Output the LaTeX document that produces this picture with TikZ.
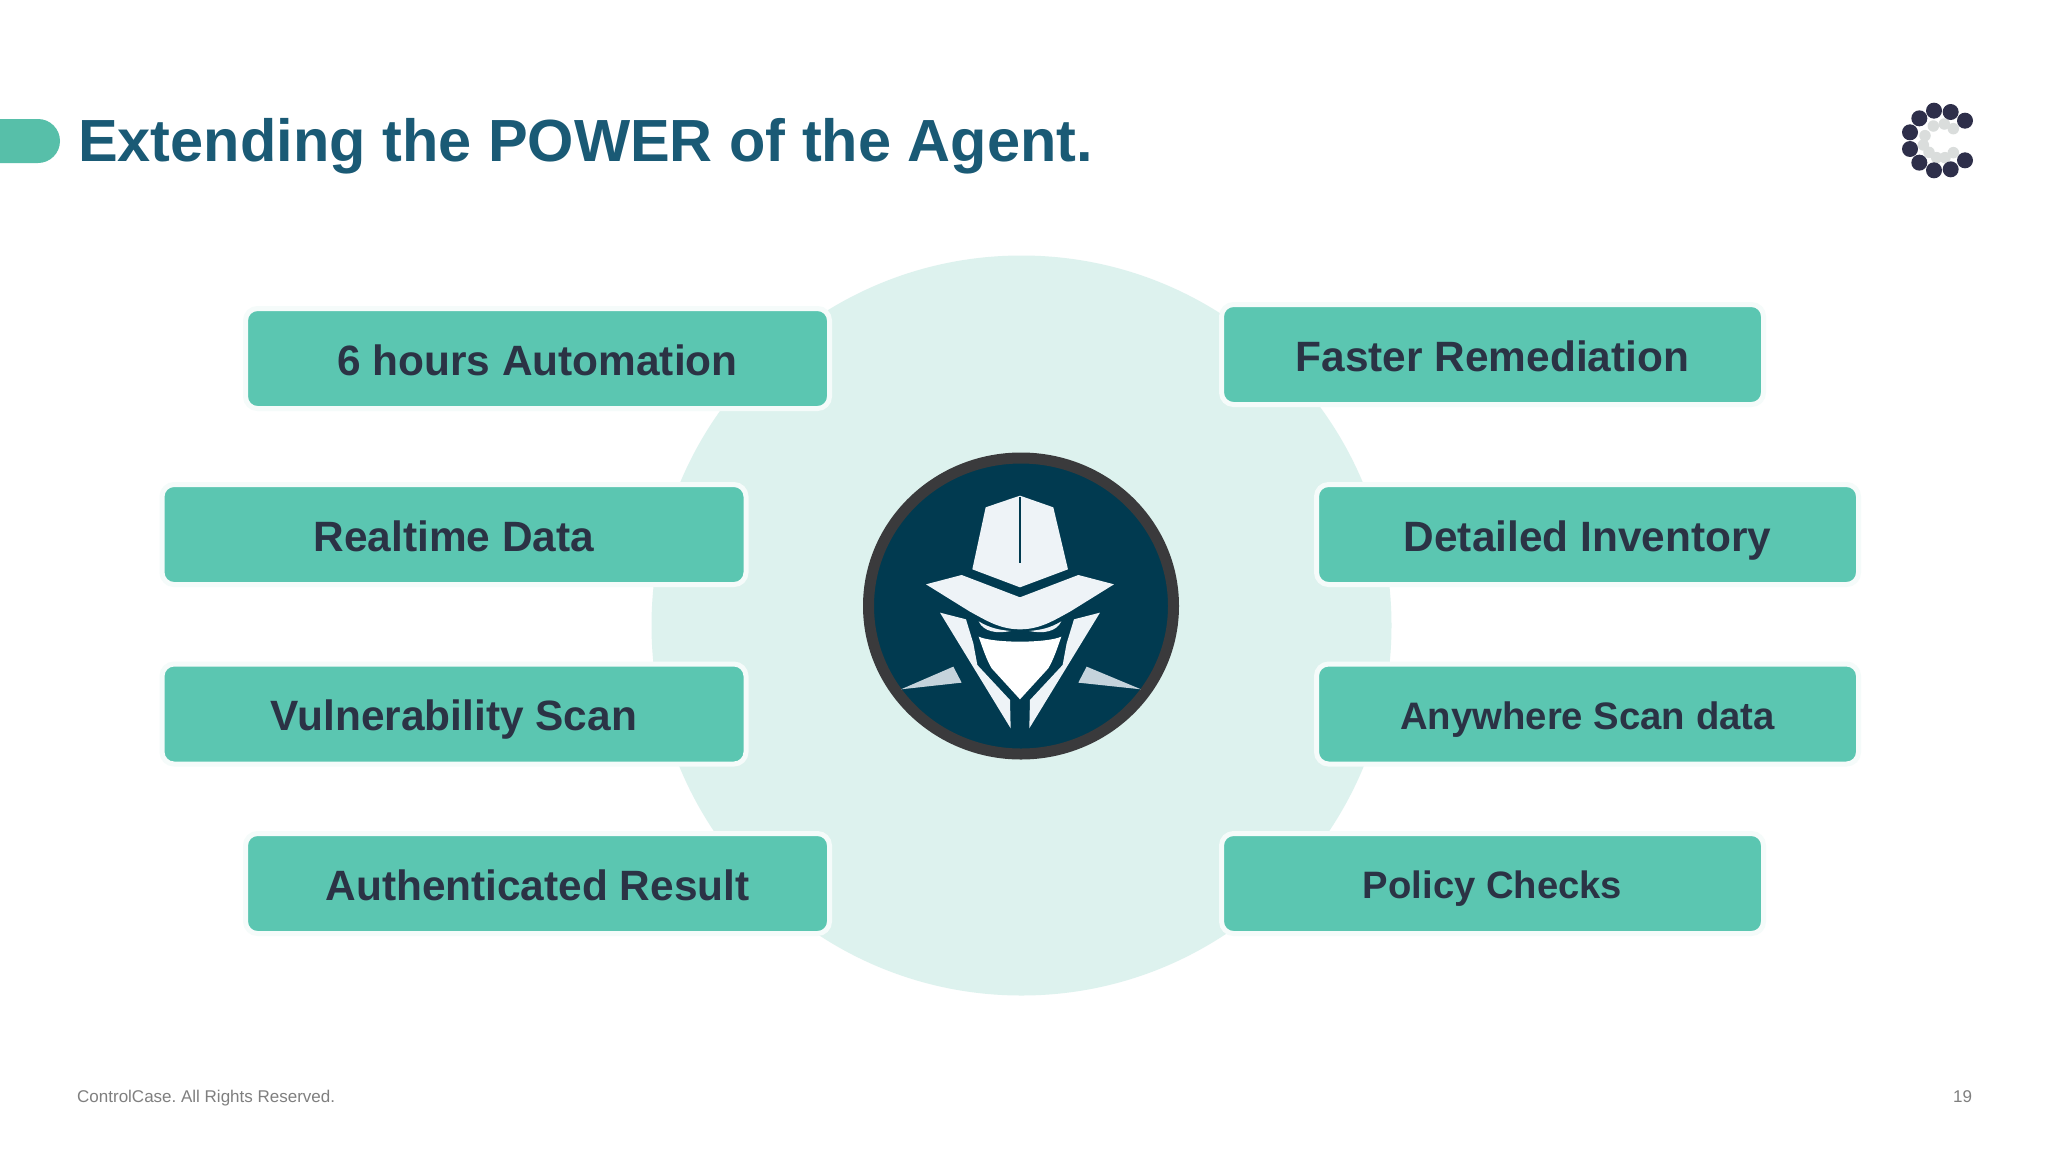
\documentclass[tikz,border=0pt]{standalone}
\usepackage{fontspec}
\usetikzlibrary{shapes.geometric}
\setmainfont{Liberation Sans}
\frenchspacing
\definecolor{teal1}{HTML}{5BC6B1}
\definecolor{pill}{HTML}{57BFA9}
\definecolor{halo}{HTML}{F5FBFA}
\definecolor{disc}{HTML}{DDF2EE}
\definecolor{titleblue}{HTML}{1A5A75}
\definecolor{labelink}{HTML}{2B3345}
\definecolor{navy}{HTML}{013A50}
\definecolor{ring}{HTML}{3A3A3C}
\definecolor{spy}{HTML}{EEF3F7}
\definecolor{spyshade}{HTML}{C5D3DC}
\definecolor{logodark}{HTML}{2E2F4A}
\definecolor{logolight}{HTML}{DADDDC}
\definecolor{foot}{HTML}{7F7F7F}
\tikzset{
  tile/.style={rectangle,rounded corners=12pt,fill=teal1,draw=halo,line width=5pt,
    text=labelink,font=\fontsize{42.4}{43}\selectfont\bfseries,
    text height=36pt,text depth=3pt,inner sep=0pt,align=center},
  widetile/.style={tile,minimum width=584pt,minimum height=100pt},
  shorttile/.style={tile,minimum width=542pt,minimum height=100pt},
  spypart/.style={fill=spy,draw=none},
  ldark/.style={circle,fill=logodark,inner sep=0pt,minimum size=16pt},
  llight/.style={circle,fill=logolight,inner sep=0pt,minimum size=11.5pt},
  footer/.style={text=foot,font=\fontsize{17}{18}\selectfont,inner sep=0pt,anchor=base west}
}
\begin{document}
\begin{tikzpicture}[x=1pt,y=-1pt]
\useasboundingbox (0,0) rectangle (2048,1152);
\fill[white] (0,0) rectangle (2048,1152);
% title
\begin{scope}
  \clip (0,0) rectangle (2048,1152);
  \fill[pill,rounded corners=22pt] (-60,119) rectangle (60,163);
\end{scope}
\node[anchor=base west,inner sep=0pt,text=titleblue,font=\fontsize{59.5}{60}\selectfont\bfseries] (title) at (78,161) {Extending the POWER of the Agent.};
% disc
\node[circle,fill=disc,minimum size=740pt,inner sep=0pt] (bigdisc) at (1021.5,625.5) {};
% tiles
\node[widetile] (auto) at (537.5,358.5) {6 hours Automation};
\node[widetile] (real) at (454,534.5) {Realtime Data};
\node[widetile] (vuln) at (454,714) {Vulnerability Scan};
\node[widetile] (authr) at (537.5,883.5) {Authenticated Result};
\node[shorttile] (fast) at (1492.5,354.5) {Faster Remediation};
\node[shorttile] (inv) at (1587.5,534.5) {Detailed Inventory};
\node[shorttile] (any) at (1587.5,714) {\raisebox{1.2pt}{\fontsize{38.3}{40}\selectfont Anywhere Scan data}};
\node[shorttile] (pol) at (1492.5,883.5) {\raisebox{1.2pt}{\fontsize{38.2}{40}\selectfont Policy Checks}};
% agent badge
\node[ellipse,fill=navy,draw=ring,line width=11pt,minimum width=305pt,minimum height=296pt,inner sep=0pt] (badge) at (1021,606) {};
\begin{scope}[shift={(840,430)},x=0.3333pt,y=-0.3333pt]
  \fill[spypart] (540,197) -- (640,232) -- (684,418) -- (540,472) -- (397,418) -- (437,232) -- cycle;
  \draw[navy,line width=1.6pt] (540,200) -- (540,400);
  \fill[spypart] (258,463) -- (365,435) -- (540,502) -- (715,435) -- (822,463) -- (690,545)
     .. controls (640,572) and (600,598) .. (540,598)
     .. controls (480,598) and (440,572) .. (390,545) -- cycle;
  \fill[spypart] (416,574) .. controls (450,595) and (480,600) .. (512,603) .. controls (470,612) and (430,605) .. cycle;
  \fill[spypart] (664,574) .. controls (630,595) and (600,600) .. (568,603) .. controls (610,612) and (650,605) .. cycle;
  \fill[white] (416,620) .. controls (460,640) and (620,640) .. (664,620)
     .. controls (650,660) and (640,690) .. (625,715) -- (540,808) -- (455,715) .. controls (440,690) and (430,660) .. cycle;
  \fill[spypart] (300,548) -- (378,568) -- (400,640) -- (412,705) -- (510,810) -- (512,895) -- cycle;
  \fill[spypart] (780,548) -- (702,568) -- (680,640) -- (668,705) -- (570,810) -- (568,895) -- cycle;
  \fill[spyshade] (183,778) -- (340,710) -- (365,758) -- cycle;
  \fill[spyshade] (903,778) -- (740,710) -- (715,758) -- cycle;
\end{scope}
% logo
\begin{scope}[shift={(1880,90)},x=0.3333pt,y=-0.3333pt]
  \foreach \p/\q [count=\i] in {160/108,193/102,220/116,135/137,130/165,147/187,170/203,195/203,220/188}
    \node[llight] (ll\i) at (\p,\q) {};
  \foreach \p/\q [count=\i] in {118/85,162/62,212/66,255/92,90/127,90/177,118/218,162/241,212/238,255/211}
    \node[ldark] (ld\i) at (\p,\q) {};
\end{scope}
% footer
\node[footer] (copy) at (77,1102) {ControlCase. All Rights Reserved.};
\node[footer] (page) at (1953,1102) {19};
\end{tikzpicture}
\end{document}
